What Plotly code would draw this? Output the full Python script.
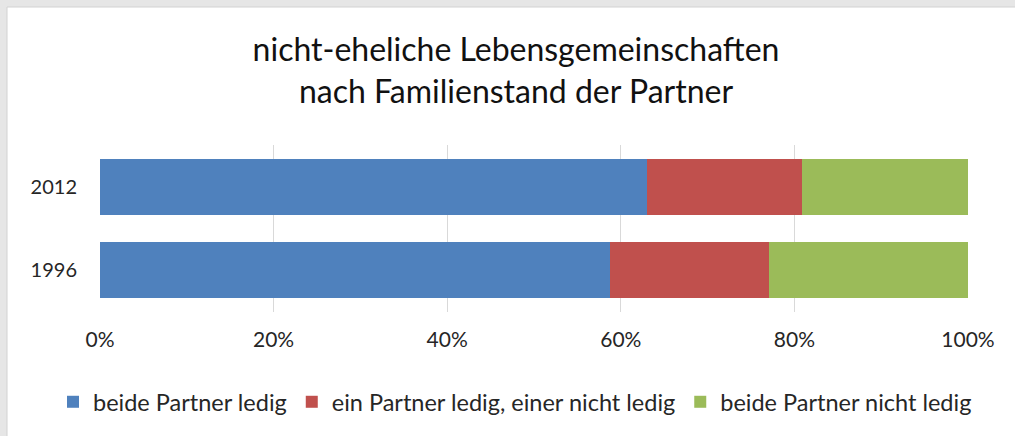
import plotly.graph_objects as go

years = ["1996", "2012"]
series_names = ["beide Partner ledig", "ein Partner ledig, einer nicht ledig", "beide Partner nicht ledig"]
beide_ledig = [58.8, 63.0]
einer_ledig = [18.3, 17.9]
beide_nicht_ledig = [22.9, 19.1]
x_ticks = [0, 20, 40, 60, 80, 100]
x_tick_labels = ["0%", "20%", "40%", "60%", "80%", "100%"]
colors = ["#4F81BD", "#C0504D", "#9BBB59"]

W, H = 1015, 436
ML, MR, MT, MB = 100, 47, 145, 124
FONT = "Lato"

fig = go.Figure()
for name, vals, col in zip(series_names, [beide_ledig, einer_ledig, beide_nicht_ledig], colors):
    fig.add_trace(go.Bar(y=years, x=vals, name=name, orientation="h",
                         marker=dict(color=col, line=dict(width=0))))

# pixel -> paper helpers (for the window frame and legend placement)
pw = W - ML - MR
ph = H - MT - MB
def fx(p):
    return (p - ML) / pw
def fy(p):
    return (H - MB - p) / ph

FRAME = 7
shapes = [
    dict(type="rect", xref="paper", yref="paper", x0=fx(0), x1=fx(W), y0=fy(FRAME), y1=fy(0),
         fillcolor="#E6E6E6", line=dict(width=0), layer="below"),
    dict(type="rect", xref="paper", yref="paper", x0=fx(0), x1=fx(FRAME), y0=fy(H), y1=fy(0),
         fillcolor="#E6E6E6", line=dict(width=0), layer="below"),
    dict(type="line", xref="paper", yref="paper", x0=fx(FRAME), x1=fx(W), y0=fy(FRAME), y1=fy(FRAME),
         line=dict(color="#D2D2D2", width=1), layer="below"),
    dict(type="line", xref="paper", yref="paper", x0=fx(FRAME), x1=fx(FRAME), y0=fy(H), y1=fy(FRAME),
         line=dict(color="#D2D2D2", width=1), layer="below"),
]

fig.update_layout(
    width=W, height=H,
    margin=dict(l=ML, r=MR, t=MT, b=MB, pad=0, autoexpand=False),
    paper_bgcolor="white", plot_bgcolor="white",
    barmode="stack", bargap=0.33,
    font=dict(family=FONT, color="#262626"),
    title=dict(text="nicht-eheliche Lebensgemeinschaften<br>nach Familienstand der Partner",
               x=516 / W, xref="container", xanchor="center",
               y=1 - 61 / H, yref="container", yanchor="top",
               font=dict(family=FONT, size=32, color="#111111")),
    xaxis=dict(range=[0, 100], tickvals=x_ticks, ticktext=x_tick_labels,
               showgrid=True, gridcolor="#D9D9D9", gridwidth=1, zeroline=False,
               showline=False, ticks="", ticklabelstandoff=13,
               tickfont=dict(family=FONT, size=21, color="#262626"), fixedrange=True),
    yaxis=dict(type="category", categoryorder="array", categoryarray=years,
               showgrid=False, zeroline=False, showline=False, ticks="",
               ticklabelstandoff=22, fixedrange=True,
               tickfont=dict(family=FONT, size=20, color="#262626")),
    legend=dict(orientation="h", xref="paper", x=fx(53), xanchor="left",
                yref="paper", y=fy(402), yanchor="middle",
                font=dict(family=FONT, size=23.5, color="#262626"),
                itemwidth=30, traceorder="normal", bgcolor="rgba(0,0,0,0)"),
    shapes=shapes,
    showlegend=True,
)

post = ("document.documentElement.style.margin='0';"
        "document.body.style.margin='0';"
        "document.body.style.background='white';"
        "document.documentElement.style.overflow='hidden';"
        "document.body.style.overflow='hidden';")

fig.write_html("out.html", post_script=post, config={"displayModeBar": False})
